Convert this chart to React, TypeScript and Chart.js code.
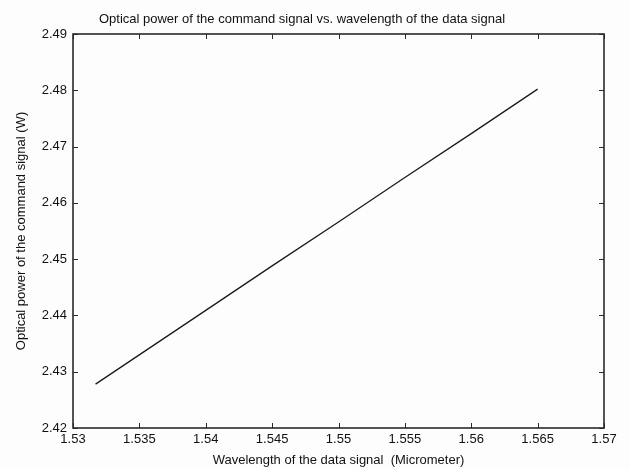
import React, { useEffect, useRef } from "react";
import { Chart, registerables } from "chart.js";

Chart.register(...registerables);

// Data
const wavelengths = [1.5317, 1.54, 1.545, 1.55, 1.555, 1.56, 1.565];
const powers = [2.4278, 2.4409, 2.4488, 2.4566, 2.4645, 2.4723, 2.4802];

const xMin = 1.53;
const xMax = 1.57;
const xStep = 0.005;
const yMin = 2.42;
const yMax = 2.49;
const yStep = 0.01;

const chartTitle = "Optical power of the command signal vs. wavelength of the data signal";
const xAxisTitle = "Wavelength of the data signal  (Micrometer)";
const yAxisTitle = "Optical power of the command signal (W)";

const FONT = "Arial, 'Liberation Sans', sans-serif";

const framePlugin = {
  id: "matlabFrame",
  afterDraw(chart: any) {
    const { ctx, chartArea: a, scales } = chart;
    ctx.save();
    ctx.strokeStyle = "#2a2a2a";
    ctx.lineWidth = 1;
    const L = 5;
    ctx.beginPath();
    scales.x.ticks.forEach((t: any) => {
      const px = Math.round(scales.x.getPixelForValue(t.value)) + 0.5;
      ctx.moveTo(px, a.bottom);
      ctx.lineTo(px, a.bottom - L);
      ctx.moveTo(px, a.top);
      ctx.lineTo(px, a.top + L);
    });
    scales.y.ticks.forEach((t: any) => {
      const py = Math.round(scales.y.getPixelForValue(t.value)) + 0.5;
      ctx.moveTo(a.left, py);
      ctx.lineTo(a.left + L, py);
      ctx.moveTo(a.right, py);
      ctx.lineTo(a.right - L, py);
    });
    ctx.stroke();
    ctx.lineWidth = 1.6;
    ctx.strokeRect(a.left, a.top, a.right - a.left, a.bottom - a.top);
    ctx.restore();
  },
};

export default function App() {
  const ref = useRef<HTMLCanvasElement | null>(null);

  useEffect(() => {
    document.body.style.margin = "0";
    const canvas = ref.current;
    if (!canvas) return;
    const chart = new Chart(canvas, {
      type: "line",
      data: {
        datasets: [
          {
            data: wavelengths.map((x, i) => ({ x, y: powers[i] })),
            borderColor: "#1a1a1a",
            borderWidth: 1.3,
            pointRadius: 0,
            fill: false,
            tension: 0,
          },
        ],
      },
      options: {
        responsive: false,
        animation: false,
        layout: { padding: { left: 0, right: 26, top: 0, bottom: 0 } },
        plugins: {
          legend: { display: false },
          tooltip: { enabled: false },
          title: {
            display: true,
            text: chartTitle,
            color: "#111",
            font: { family: FONT, size: 13, weight: "normal" },
            padding: { top: 12, bottom: 6.4 },
          },
        },
        scales: {
          x: {
            type: "linear",
            min: xMin,
            max: xMax,
            grid: { display: false, drawTicks: false },
            border: { display: false },
            afterFit: (s: any) => {
              s.height = 42;
            },
            ticks: {
              stepSize: xStep,
              autoSkip: false,
              maxRotation: 0,
              padding: 4,
              color: "#111",
              font: { family: FONT, size: 13 },
              callback: (v: any) => String(Number(Number(v).toFixed(3))),
            },
            title: {
              display: true,
              text: xAxisTitle,
              color: "#111",
              font: { family: FONT, size: 13 },
              padding: { top: 0, bottom: 2 },
            },
          },
          y: {
            type: "linear",
            min: yMin,
            max: yMax,
            grid: { display: false, drawTicks: false },
            border: { display: false },
            afterFit: (s: any) => {
              s.width = 73;
            },
            ticks: {
              stepSize: yStep,
              autoSkip: false,
              padding: 6,
              color: "#111",
              font: { family: FONT, size: 13 },
              callback: (v: any) => Number(v).toFixed(2),
            },
            title: {
              display: true,
              text: yAxisTitle,
              color: "#111",
              font: { family: FONT, size: 13 },
              padding: { top: 14, bottom: 0 },
            },
          },
        },
      },
      plugins: [framePlugin],
    });
    return () => chart.destroy();
  }, []);

  return (
    <div style={{ position: "absolute", left: 0, top: 0, width: 630, height: 470, background: "#fdfdfd" }}>
      <canvas ref={ref} width={630} height={470} style={{ display: "block" }} />
    </div>
  );
}
